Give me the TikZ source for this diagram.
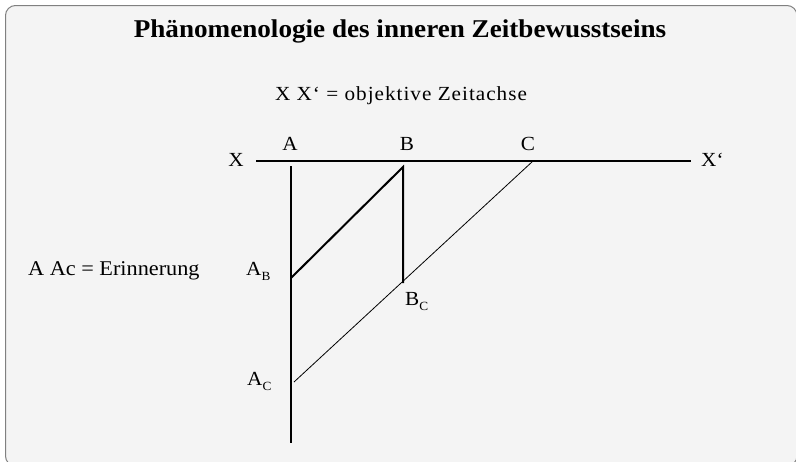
\documentclass[tikz,border=0pt]{standalone}
\usepackage{fontspec}
\setmainfont{Liberation Serif}[FakeStretch=1.06]
\usetikzlibrary{positioning,calc}
\newcommand{\sublbl}[1]{\raisebox{-5.5pt}{\fontsize{12.5}{14}\selectfont #1}}
\tikzset{
  frm/.style={draw=black!50,fill=black!4.5,line width=1pt,rounded corners=10pt},
  thk/.style={line width=2pt},
  thn/.style={line width=0.8pt},
  lbl/.style={font=\fontsize{20}{24}\selectfont,inner sep=0pt,anchor=base},
  txt/.style={font=\fontsize{21}{25}\selectfont,inner sep=0pt,anchor=base},
}

\begin{document}
\begin{tikzpicture}[x=1pt,y=-1pt]
  \useasboundingbox (0,0) rectangle (796,461);
  \draw[frm] (5.5,5.5) rectangle (797,466);
  \node[txt,font=\fontsize{25.6}{30}\selectfont\bfseries] (title) at (400,37.5)
    {Phänomenologie des inneren Zeitbewusstseins};
  \node[txt,font=\fontsize{20}{24}\selectfont\addfontfeature{LetterSpace=5}] (axtxt) at (401,100)
    {X X‘ = objektive Zeitachse};
  \node[txt,anchor=base west] (erin) at (28,275) {A Ac = Erinnerung};
  % Zeitachse
  \coordinate (xl) at (256,161);
  \coordinate (xr) at (691,161);
  \node[lbl] (X) at (236,166) {X};
  \node[lbl,anchor=base west] (X') at (701,166.5) {X‘};
  \node[lbl] (lA) at (290,150) {A};
  \node[lbl] (lB) at (407,150) {B};
  \node[lbl] (lC) at (528,150) {C};
  % Punkte
  \coordinate (A) at (291,166);
  \coordinate (Aend) at (291,443);
  \coordinate (AB) at (291,278);
  \coordinate (B) at (403,167);
  \coordinate (BC) at (403,283);
  \coordinate (C) at (533,161);
  \coordinate (AC) at (294,382);
  \node[lbl,anchor=base west] (lAB) at (246,275) {A\sublbl{B}};
  \node[lbl,anchor=base west] (lBC) at (405,305) {B\sublbl{C}};
  \node[lbl,anchor=base west] (lAC) at (247,385) {A\sublbl{C}};
  \draw[thk] (xl) -- (xr);
  \draw[thk] (A) -- (Aend);
  \draw[thk] (AB) -- (B) -- (BC);
  \draw[thn] (C) -- (AC);
\end{tikzpicture}
\end{document}
